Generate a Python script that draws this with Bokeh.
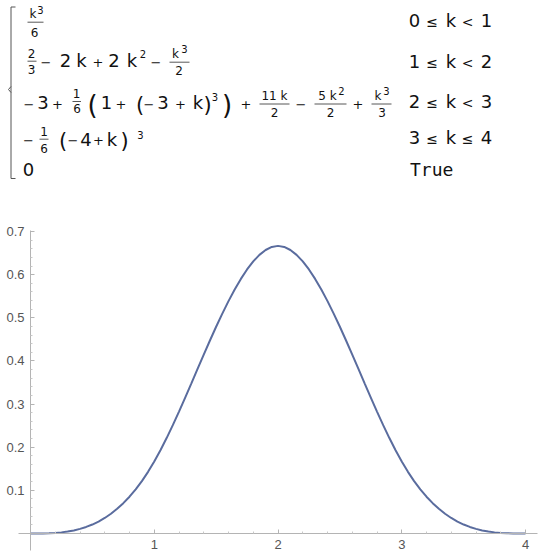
from bokeh.plotting import figure
from bokeh.models import ColumnDataSource, Range1d, FixedTicker
from bokeh.embed import file_html
from bokeh.resources import INLINE
from bokeh.core.properties import value, field

# ---------------- data ----------------
k_vals = [0.0, 0.05, 0.1, 0.15, 0.2, 0.25, 0.3, 0.35, 0.4, 0.45,
          0.5, 0.55, 0.6, 0.65, 0.7, 0.75, 0.8, 0.85, 0.9, 0.95,
          1.0, 1.05, 1.1, 1.15, 1.2, 1.25, 1.3, 1.35, 1.4, 1.45,
          1.5, 1.55, 1.6, 1.65, 1.7, 1.75, 1.8, 1.85, 1.9, 1.95,
          2.0, 2.05, 2.1, 2.15, 2.2, 2.25, 2.3, 2.35, 2.4, 2.45,
          2.5, 2.55, 2.6, 2.65, 2.7, 2.75, 2.8, 2.85, 2.9, 2.95,
          3.0, 3.05, 3.1, 3.15, 3.2, 3.25, 3.3, 3.35, 3.4, 3.45,
          3.5, 3.55, 3.6, 3.65, 3.7, 3.75, 3.8, 3.85, 3.9, 3.95, 4.0]
spline_vals = [0.0000, 0.0000, 0.0002, 0.0006, 0.0013, 0.0026, 0.0045, 0.0071, 0.0107, 0.0152,
               0.0208, 0.0277, 0.0360, 0.0458, 0.0572, 0.0703, 0.0853, 0.1024, 0.1215, 0.1429,
               0.1667, 0.1929, 0.2212, 0.2512, 0.2827, 0.3151, 0.3482, 0.3815, 0.4147, 0.4474,
               0.4792, 0.5097, 0.5387, 0.5656, 0.5902, 0.6120, 0.6307, 0.6459, 0.6572, 0.6642,
               0.6667, 0.6642, 0.6572, 0.6459, 0.6307, 0.6120, 0.5902, 0.5656, 0.5387, 0.5097,
               0.4792, 0.4474, 0.4147, 0.3815, 0.3482, 0.3151, 0.2827, 0.2512, 0.2212, 0.1929,
               0.1667, 0.1429, 0.1215, 0.1024, 0.0853, 0.0703, 0.0572, 0.0458, 0.0360, 0.0277,
               0.0208, 0.0152, 0.0107, 0.0071, 0.0045, 0.0026, 0.0013, 0.0006, 0.0002, 0.0000, 0.0000]

x_ticks = [1, 2, 3, 4]
x_minor = [0.2, 0.4, 0.6, 0.8, 1.2, 1.4, 1.6, 1.8, 2.2, 2.4, 2.6, 2.8,
           3.2, 3.4, 3.6, 3.8]
y_ticks = [0.1, 0.2, 0.3, 0.4, 0.5, 0.6, 0.7]
y_minor = [0.02, 0.04, 0.06, 0.08, 0.12, 0.14, 0.16, 0.18, 0.22, 0.24, 0.26, 0.28,
           0.32, 0.34, 0.36, 0.38, 0.42, 0.44, 0.46, 0.48, 0.52, 0.54, 0.56, 0.58,
           0.62, 0.64, 0.66, 0.68]

conditions = [["0", "≤", "k", "<", "1"],
              ["1", "≤", "k", "<", "2"],
              ["2", "≤", "k", "<", "3"],
              ["3", "≤", "k", "≤", "4"]]
otherwise_text = "True"

# ---------------- formula layout (pixel positions of the typeset piecewise) ----------------
SIZES = {"m": 18, "f": 12, "s": 10, "o": 13, "P": 26, "p": 21, "c": 18, "co": 14}
BASE_SHIFT = 0.38   # observed offset of rendered text vs. requested baseline, in em
tokens = [
    # row 1 : k^3/6
    ("k", 32.5, 18.5, "f"), ("3", 40, 13.5, "s"), ("6", 34, 36.5, "f"),
    # row 2 : 2/3 - 2k + 2k^2 - k^3/2
    ("2", 31, 57.5, "f"), ("3", 31, 74, "f"),
    ("−", 45.5, 67, "o"), ("2", 65, 67, "m"), ("k", 81, 67, "m"), ("+", 97.5, 67, "o"),
    ("2", 113.5, 67, "m"), ("k", 131.5, 67, "m"), ("2", 142.5, 57, "s"), ("−", 155.5, 67, "o"),
    ("k", 175, 58, "f"), ("3", 184, 52.5, "s"), ("2", 178.5, 75, "f"),
    # row 3
    ("−", 28.5, 108.5, "o"), ("3", 42.5, 109, "m"), ("+", 57, 108.5, "o"),
    ("1", 76, 97.5, "f"), ("6", 76.5, 112.5, "f"),
    ("(", 92, 114, "P"), ("1", 106, 109, "m"), ("+", 120.5, 108.5, "o"),
    ("(", 139.5, 112, "p"), ("−", 148.5, 108.5, "o"), ("3", 162.5, 109, "m"), ("+", 180, 108.5, "o"),
    ("k", 197.5, 109, "m"), (")", 207, 112, "p"), ("3", 214.5, 100, "s"), (")", 226.5, 114, "P"),
    ("+", 245.5, 108.5, "o"),
    ("11 k", 274, 100, "f"), ("2", 274, 117, "f"),
    ("−", 300.5, 108.5, "o"),
    ("5 k", 327, 100, "f"), ("2", 341, 94.5, "s"), ("2", 330, 117, "f"),
    ("+", 357.5, 108.5, "o"),
    ("k", 377.5, 100, "f"), ("3", 386, 94.5, "s"), ("3", 381.5, 117, "f"),
    # row 4 : -1/6 (-4+k)^3
    ("−", 28, 145, "o"), ("1", 43.5, 135.5, "f"), ("6", 43.5, 153, "f"),
    ("(", 62.5, 148.5, "p"), ("−", 72.5, 145, "o"), ("4", 85.5, 145.5, "m"), ("+", 98, 145, "o"),
    ("k", 111.5, 145.5, "m"), (")", 124, 148.5, "p"), ("3", 140, 138, "s"),
    # row 5
    ("0", 28, 176, "m"),
]
frac_bars = [(27, 43, 21.7), (27, 36, 60.7), (169, 189, 61.7), (72, 80.5, 101),
             (259, 289, 103.5), (314, 346, 103.5), (371, 391, 103.5), (39, 48, 138.7)]
cond_x = [414, 431.5, 450.5, 467, 486]
cond_y = [27, 68, 108, 143.5]
true_y = 176

tx, ty, tt, ts = [], [], [], []
def put(t, x, y, size):
    tx.append(x); ty.append(y - BASE_SHIFT * size); tt.append(t); ts.append("%dpx" % size)
for t, x, y, kind in tokens:
    put(t, x, y, SIZES[kind])
for row, yy in zip(conditions, cond_y):
    for t, xx in zip(row, cond_x):
        put(t, xx, yy, SIZES["co"] if t in ("≤", "<") else SIZES["c"])
tsrc = ColumnDataSource(dict(x=tx, y=ty, text=tt, size=ts))

ORG = 0               # page offset of the canvas (observed)
W, H = 538, 556
PX_PER_X = 123.75     # pixels per unit of k
PX_PER_Y = 431.4      # pixels per unit of value
X0_PIX, Y0_PIX = 30, 533   # picture pixel of the origin

p = figure(width=W, height=H,
           x_range=Range1d((ORG - X0_PIX) / PX_PER_X, (ORG + W - X0_PIX) / PX_PER_X),
           y_range=Range1d(-(ORG + H - Y0_PIX) / PX_PER_Y, (Y0_PIX - ORG) / PX_PER_Y),
           output_backend="svg", toolbar_location=None, min_border=0)
p.extra_x_ranges = {"px": Range1d(ORG, ORG + W)}
p.extra_y_ranges = {"py": Range1d(ORG + H, ORG)}
p.grid.visible = False
p.outline_line_color = None

# ---- formula ----
p.text(x="x", y="y", text="text", source=tsrc, x_range_name="px", y_range_name="py",
       text_font=value("DejaVu Sans"), text_font_size=field("size"),
       text_align="center", text_baseline="alphabetic", text_color="#111111")
p.text(x=[409.5], y=[true_y - BASE_SHIFT * 18], text=[otherwise_text],
       x_range_name="px", y_range_name="py",
       text_font=value("DejaVu Sans Mono"), text_font_size="18px",
       text_align="left", text_baseline="alphabetic", text_color="#111111")
p.segment(x0=[b[0] for b in frac_bars], x1=[b[1] for b in frac_bars],
          y0=[b[2] for b in frac_bars], y1=[b[2] for b in frac_bars],
          x_range_name="px", y_range_name="py", line_color="#444444", line_width=0.9)
p.line(x=[15, 10.5, 10.5, 15], y=[6.5, 6.5, 178, 178], x_range_name="px", y_range_name="py",
       line_color="#555555", line_width=1)
p.line(x=[10.5, 8, 10.5], y=[86, 89, 92], x_range_name="px", y_range_name="py",
       line_color="#555555", line_width=1)

# ---- curve ----
p.line(x=k_vals, y=spline_vals, line_color="#5a6c9e", line_width=2)

p.xaxis.ticker = FixedTicker(ticks=x_ticks, minor_ticks=x_minor)
p.yaxis.ticker = FixedTicker(ticks=y_ticks, minor_ticks=y_minor)
p.xaxis.fixed_location = 0
p.yaxis.fixed_location = 0
p.xaxis.bounds = (-0.097, 4.1)
p.yaxis.bounds = (-0.04, 0.703)
for ax in (p.xaxis, p.yaxis):
    ax.axis_line_color = "#b4b4b4"
    ax.major_tick_line_color = "#b4b4b4"
    ax.minor_tick_line_color = "#c8c8c8"
    ax.major_tick_in = 4
    ax.major_tick_out = 0
    ax.minor_tick_in = 2
    ax.minor_tick_out = 0
    ax.major_label_text_font = "Liberation Sans"
    ax.major_label_text_font_size = "13px"
    ax.major_label_text_color = "#555555"
p.xaxis.major_label_standoff = 6
p.yaxis.major_label_standoff = 6

open("out.html", "w").write(file_html(p, INLINE))
